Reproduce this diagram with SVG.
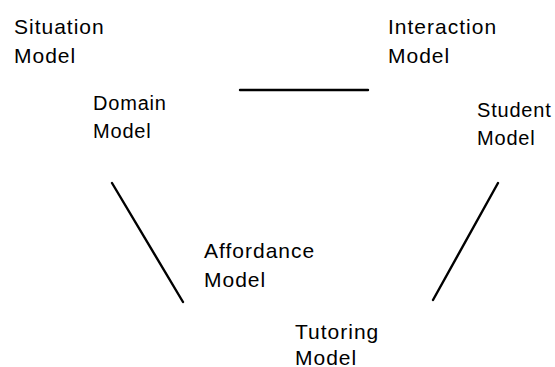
<svg xmlns="http://www.w3.org/2000/svg" width="555" height="367" viewBox="0 0 555 367">
<style>
.t{font-family:"Liberation Sans",Arial,sans-serif;fill:#000;font-size:21px;letter-spacing:1px}
.s{font-size:20px;letter-spacing:0.8px}
.c{stroke:#000;stroke-width:2.4;fill:none;stroke-linecap:round}
</style>
<rect width="555" height="367" fill="#fff"/>
<g id="situation"><text class="t" x="14" y="34">Situation</text><text class="t" x="14" y="63">Model</text></g>
<g id="interaction"><text class="t" x="388" y="34">Interaction</text><text class="t" x="388" y="63">Model</text></g>
<g id="domain"><text class="t s" x="93" y="110">Domain</text><text class="t s" x="93" y="138">Model</text></g>
<g id="student"><text class="t s" x="477" y="117">Student</text><text class="t s" x="477" y="145">Model</text></g>
<g id="affordance"><text class="t" x="204" y="258">Affordance</text><text class="t" x="204" y="287">Model</text></g>
<g id="tutoring"><text class="t" x="295" y="339">Tutoring</text><text class="t" x="295" y="365">Model</text></g>
<g id="connectors">
<line class="c" x1="240" y1="90" x2="368" y2="90" stroke-width="1.5"/>
<line class="c" x1="112" y1="183" x2="183" y2="302"/>
<line class="c" x1="498" y1="183" x2="433" y2="300"/>
</g>
</svg>
